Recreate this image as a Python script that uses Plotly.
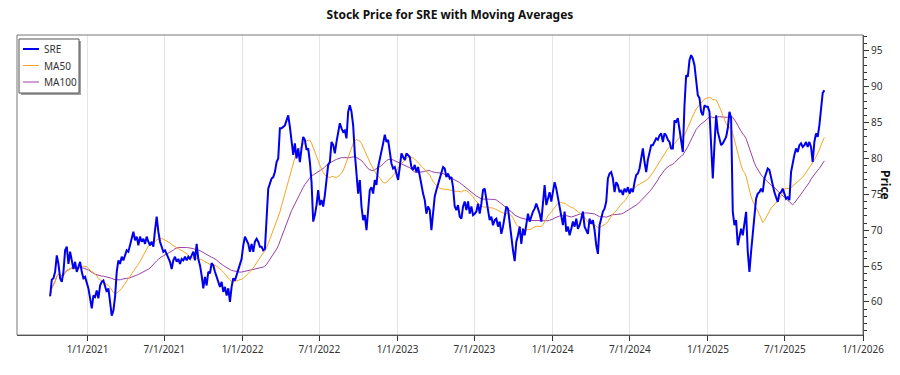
import pandas as pd
import plotly.graph_objects as go

# ---- data ----
start_date = "2020-10-05"
end_date = "2025-10-02"

price_2020_2021 = [
    60.8, 63.1, 63.3, 64.2, 66.5, 65.3, 63.3, 62.8, 64.2, 67.2,
    67.7, 65.3, 67.0, 65.8, 64.6, 65.6, 64.2, 64.9, 65.6, 64.2,
    63.3, 63.5, 62.8, 61.9, 60.5, 59.1, 60.9, 60.7, 61.6, 60.5,
    62.3, 62.8, 63.0, 62.3, 61.4, 61.9, 60.2, 58.1, 58.8, 60.7,
    64.2, 65.8, 65.3, 66.3, 65.8, 66.7, 67.2, 67.0, 67.9, 69.1,
    69.8, 68.6, 69.1, 67.9, 69.1, 68.4, 68.8, 68.1, 69.1, 68.4,
    67.9, 68.4, 67.7, 70.0, 71.9, 69.8, 68.4, 67.7, 67.0, 67.2,
    66.7, 66.3, 65.6, 64.6, 65.8, 66.3, 65.6, 66.0, 65.3, 66.0,
    65.8, 66.3, 65.8, 66.3, 66.0, 66.5, 67.0, 65.8, 68.1, 66.0,
]
price_2021_2022 = [
    65.1, 63.7, 61.9, 63.5, 62.3, 64.2, 64.0, 65.4, 65.1, 64.2,
    63.5, 62.8, 62.1, 62.8, 61.4, 62.1, 60.9, 61.9, 60.0, 62.1,
    63.3, 63.0, 63.7, 64.4, 65.4, 66.0, 67.9, 69.1, 68.6, 68.1,
    67.0, 68.1, 67.0, 68.4, 68.8, 68.4, 67.7, 67.7, 67.2, 67.4,
    71.6, 75.8, 76.5, 77.2, 77.4, 78.1, 79.5, 80.0, 84.2, 84.2,
    84.4, 84.6, 85.3, 86.0, 84.4, 82.3, 80.5, 82.1, 80.0, 81.4,
    79.5, 81.4, 83.0, 82.6, 81.2, 81.4, 79.5, 76.7, 71.2, 72.1,
    73.5, 75.6, 73.5, 74.2, 73.3, 74.9, 77.0, 79.1, 79.5, 82.3,
    81.9, 80.7, 82.3, 83.7, 84.9, 84.2, 83.7, 83.9, 82.8, 86.5,
    87.4, 86.5, 84.6,
]
price_2022_2023 = [
    80.7, 78.4, 75.1, 77.0, 73.3, 71.4, 72.1, 70.0, 72.3, 75.6,
    76.0, 75.1, 77.0, 76.3, 78.8, 79.8, 80.7, 82.1, 83.3, 82.3,
    82.6, 81.2, 79.3, 78.6, 78.8, 77.9, 77.0, 78.8, 80.7, 80.2,
    79.8, 80.7, 80.5, 80.2, 78.8, 78.4, 79.1, 78.1, 78.8, 77.4,
    76.5, 75.1, 74.2, 72.3, 73.3, 72.8, 70.0, 72.3, 74.7, 75.6,
    76.5, 77.4, 78.1, 78.8, 78.6, 77.4, 77.9, 77.2, 77.4, 76.0,
    73.3, 72.8, 73.5, 71.9, 71.6, 73.3, 74.0, 72.8, 74.0, 72.3,
    73.3, 72.1, 72.3, 72.6, 73.7, 72.3, 73.7, 75.6, 75.8, 74.0,
    72.8, 71.4, 71.9, 70.7, 71.4, 71.6, 70.5, 71.2, 69.5, 70.5,
    71.9, 73.3, 73.0, 70.9, 69.1, 67.2,
]
price_2023_2024 = [
    65.7,
    68.4, 69.3, 70.5, 68.1, 70.2, 69.3, 70.7, 72.3, 71.2, 72.1,
    72.6, 73.0, 73.7, 73.0, 72.3, 71.2, 74.0, 76.3, 73.5, 74.4,
    75.3, 74.0, 75.3, 76.7, 75.8, 74.4, 73.5, 72.1, 70.7, 72.6,
    69.8, 70.5, 69.3, 70.2, 71.2, 70.5, 71.6, 70.2, 70.7, 71.6,
    72.6, 70.5, 70.0, 69.5, 71.6, 70.9, 71.4, 70.0, 67.9, 66.7,
    70.7, 71.9, 72.6, 73.0, 74.0, 77.2, 77.9, 78.1, 77.2, 75.3,
    76.7, 76.3, 75.3, 75.6, 74.9, 75.8, 75.3, 76.0, 75.1, 75.8,
    75.3, 76.7, 77.7, 77.9, 78.6, 80.0, 81.4, 79.5, 78.1, 79.8,
    80.9, 81.85, 81.85, 82.3, 82.8, 82.6, 83.2, 83.5, 82.3, 83.5,
    83.2, 82.6, 82.3, 81.4, 81.4,
]
price_2024_2025 = [
    85.3, 85.1, 85.6, 84.2, 82.3, 80.9, 87.4, 91.6, 91.4, 93.7,
    94.4, 93.9, 93.0, 91.2, 88.8, 88.4, 86.5, 86.0, 87.4, 87.2,
    87.2, 86.5, 82.3, 77.2, 81.85, 86.0, 83.7, 82.6, 81.85, 82.1,
    82.6, 83.0, 84.2, 86.5, 85.6, 72.55, 70.7, 71.4, 67.9, 69.3,
    70.2, 69.3, 71.2, 72.55, 67.0, 64.2, 67.0, 69.8, 71.6, 74.4,
    75.1, 75.3, 75.8, 75.3, 77.2, 77.9, 78.6, 78.4, 77.4, 76.0,
    75.3, 74.6, 73.95, 75.1, 75.3, 75.8, 75.1, 74.4, 74.6, 74.2,
    78.1, 79.5, 80.5, 81.4, 80.9, 81.85, 82.1, 81.6, 81.85, 82.3,
    81.6, 82.3, 81.6, 79.5, 82.3, 83.5, 83.0, 84.6, 86.5, 89.1, 89.5,
]

tick_dates = ["2021-01-01", "2021-07-01", "2022-01-01", "2022-07-01",
              "2023-01-01", "2023-07-01", "2024-01-01", "2024-07-01",
              "2025-01-01", "2025-07-01", "2026-01-01"]
tick_labels = ["1/1/2021", "7/1/2021", "1/1/2022", "7/1/2022",
               "1/1/2023", "7/1/2023", "1/1/2024", "7/1/2024",
               "1/1/2025", "7/1/2025", "1/1/2026"]

prices = (price_2020_2021 + price_2021_2022 + price_2022_2023
          + price_2023_2024 + price_2024_2025)
dates = pd.date_range(start_date, end_date, periods=len(prices))
series = pd.Series(prices, index=dates)
ma50 = series.rolling("72D", min_periods=1).mean()    # ~50 trading days
ma100 = series.rolling("145D", min_periods=1).mean()  # ~100 trading days

BLUE = "#0000ee"
ORANGE = "#f5a623"
PURPLE = "#9b3fa6"
FONT = "Noto Sans"

fig = go.Figure()
fig.add_trace(go.Scatter(x=dates, y=ma100, mode="lines", name="MA100",
                         line=dict(color=PURPLE, width=1), showlegend=False))
fig.add_trace(go.Scatter(x=dates, y=ma50, mode="lines", name="MA50",
                         line=dict(color=ORANGE, width=1), showlegend=False))
fig.add_trace(go.Scatter(x=dates, y=series, mode="lines", name="SRE",
                         line=dict(color=BLUE, width=2), showlegend=False))

W, H = 900, 375
ML, MR, MT, MB = 17, 37, 35, 40
PW, PH = W - ML - MR, H - MT - MB


def px_x(px):
    return (px - ML) / PW


def px_y(py):
    return (H - MB - py) / PH


shapes = [
    # plot frame
    dict(type="rect", xref="paper", yref="paper", x0=0, x1=1, y0=0, y1=1,
         line=dict(color="#777", width=1), layer="above"),
    # legend shadow and box
    dict(type="rect", xref="paper", yref="paper",
         x0=px_x(21), x1=px_x(81), y0=px_y(95), y1=px_y(41),
         fillcolor="#a0a0a0", line=dict(width=0), layer="above"),
    dict(type="rect", xref="paper", yref="paper",
         x0=px_x(19), x1=px_x(79), y0=px_y(93), y1=px_y(39),
         fillcolor="white", line=dict(color="#555", width=1), layer="above"),
]
annotations = []
legend_items = [("SRE", BLUE, 2, 49), ("MA50", ORANGE, 1, 65.5), ("MA100", PURPLE, 1, 82)]
for name, col, w, py in legend_items:
    shapes.append(dict(type="line", xref="paper", yref="paper",
                       x0=px_x(23), x1=px_x(39), y0=px_y(py), y1=px_y(py),
                       line=dict(color=col, width=w), layer="above"))
    annotations.append(dict(text=name, xref="paper", yref="paper",
                            x=px_x(42), y=px_y(py), xanchor="left", yanchor="middle",
                            showarrow=False, font=dict(family=FONT, size=10, color="#333")))

annotations.append(dict(text="<b>Price</b>", xref="paper", yref="paper",
                        x=px_x(886), y=0.5, xanchor="center", yanchor="middle",
                        textangle=90, showarrow=False,
                        font=dict(family=FONT, size=12, color="#111")))

fig.update_layout(
    width=W, height=H,
    margin=dict(l=ML, r=MR, t=MT, b=MB),
    paper_bgcolor="white", plot_bgcolor="white",
    font=dict(family=FONT, size=10, color="#333"),
    title=dict(text="<b>Stock Price for SRE with Moving Averages</b>",
               x=0.5, xanchor="center", y=1 - 15 / H, yanchor="middle",
               font=dict(family=FONT, size=12, color="#111")),
    shapes=shapes, annotations=annotations,
    xaxis=dict(type="date", range=["2020-07-19", "2026-01-01"],
               tickvals=tick_dates, ticktext=tick_labels,
               showgrid=True, gridcolor="#e4e4e4", gridwidth=1,
               ticks="outside", ticklen=5, tickcolor="#333",
               showline=True, linecolor="#333", linewidth=1,
               zeroline=False, tickfont=dict(family=FONT, size=10, color="#333")),
    yaxis=dict(side="right", range=[55.4, 97.2],
               tickvals=[60, 65, 70, 75, 80, 85, 90, 95],
               showgrid=False, zeroline=False,
               ticks="outside", ticklen=5, tickcolor="#333",
               minor=dict(dtick=1, ticks="outside", ticklen=3, tickcolor="#333", showgrid=False),
               showline=True, linecolor="#333", linewidth=1,
               tickfont=dict(family=FONT, size=10, color="#333")),
)

fig.write_html("out.html",
               config={"displayModeBar": False},
               post_script="document.body.style.margin='0px';document.body.style.overflow='hidden';")
